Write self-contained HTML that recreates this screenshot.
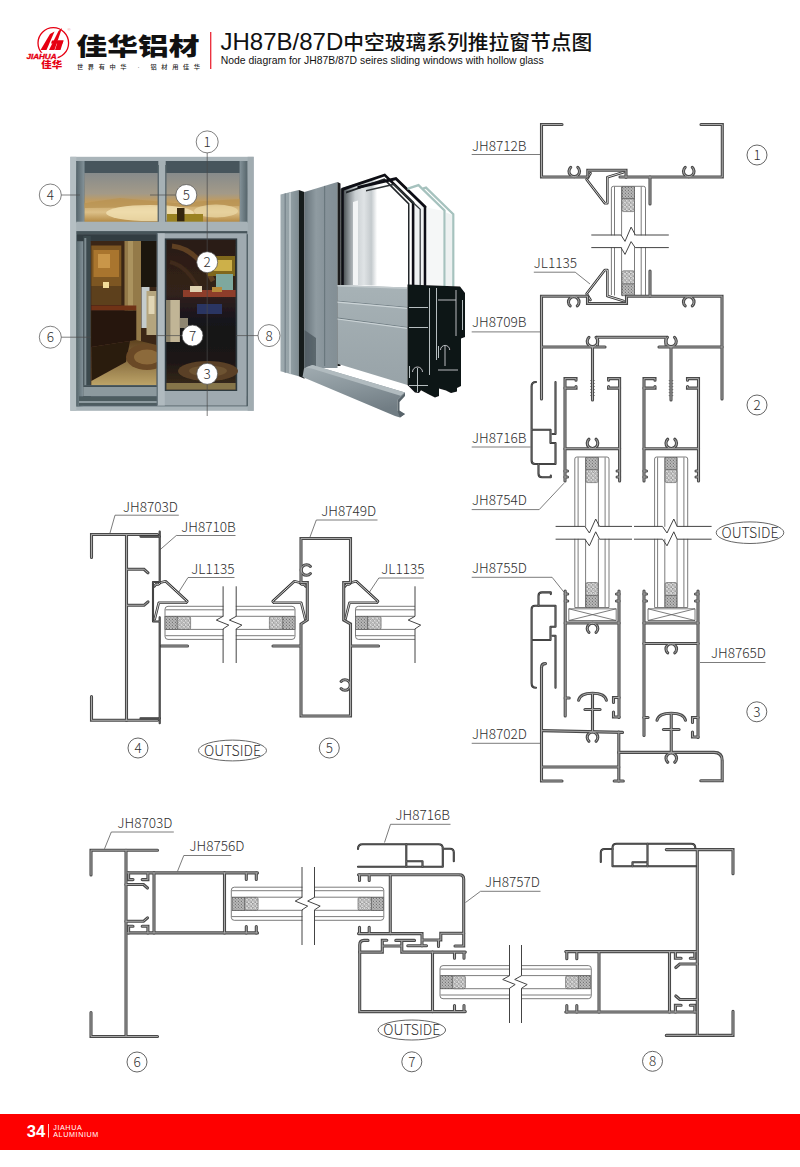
<!DOCTYPE html>
<html lang="zh"><head><meta charset="utf-8"><title>JH87B/87D中空玻璃系列推拉窗节点图</title>
<style>
html,body{margin:0;padding:0;background:#fff}
body{width:800px;height:1167px;overflow:hidden;position:relative;font-family:"Liberation Sans","Noto Sans CJK SC",sans-serif}
svg{position:absolute;left:0;top:0;display:block}
.lbl text{font-family:"Noto Sans CJK SC","Liberation Sans",sans-serif;font-weight:300;font-size:13.6px;fill:#2f2f2f}
.lbl text.num{font-size:13.5px;font-weight:300}
.lbl text.out{font-size:14px;font-weight:300}
.pf{fill:none;stroke:#494949;stroke-width:3.1;stroke-linecap:round;stroke-linejoin:miter}
.pc{fill:none;stroke:#a8a8a8;stroke-width:1.0;stroke-linecap:round;stroke-linejoin:miter}
.dk{fill:none;stroke:#2e2e2e;stroke-width:2.1;stroke-linecap:round;stroke-linejoin:round}
.dc{fill:none;stroke:#8a8a8a;stroke-width:0.5;stroke-linecap:round;stroke-linejoin:round}
.th{fill:none;stroke:#5a5a5a;stroke-width:0.8}
.bk{fill:none;stroke:#444;stroke-width:1;stroke-linejoin:miter}
.gk{fill:none;stroke:#333;stroke-width:2.6;stroke-linecap:round;stroke-linejoin:round}
.gc{fill:none;stroke:#e8e8e8;stroke-width:0.9;stroke-linecap:round;stroke-linejoin:round}
</style></head><body>
<svg width="800" height="1167" viewBox="0 0 800 1167">
<defs>
<pattern id="sp1" width="3" height="3" patternUnits="userSpaceOnUse"><rect width="3" height="3" fill="#c9c9c9"/><path d="M0.3,0.8 l0.9,0.6 M1.8,0.2 l0.5,0.9 M0.6,2.4 l0.9,-0.5 M2.1,2 l0.7,0.7" stroke="#333" stroke-width="0.5" fill="none"/><circle cx="1.6" cy="1.5" r="0.4" fill="#333"/></pattern>
<pattern id="sp2" width="4.2" height="4.2" patternUnits="userSpaceOnUse"><rect width="4.2" height="4.2" fill="#dcdcdc"/><circle cx="1.1" cy="1.1" r="0.9" fill="#fff" stroke="#444" stroke-width="0.5"/><circle cx="3.2" cy="3.2" r="0.9" fill="#fff" stroke="#444" stroke-width="0.5"/></pattern>

<filter id="soft" x="-2%" y="-2%" width="104%" height="104%"><feGaussianBlur stdDeviation="0.55"/></filter>
<filter id="soft2" x="-5%" y="-5%" width="110%" height="110%"><feGaussianBlur stdDeviation="1.6"/></filter>
<linearGradient id="gl1" x1="0" y1="0" x2="0" y2="1"><stop offset="0" stop-color="#878b8b"/><stop offset="0.42" stop-color="#a39a88"/><stop offset="0.58" stop-color="#c29c5e"/><stop offset="0.8" stop-color="#dcc088"/><stop offset="1" stop-color="#b48a44"/></linearGradient>
<linearGradient id="rv" x1="0" y1="0" x2="1" y2="0"><stop offset="0" stop-color="#56656b"/><stop offset="1" stop-color="#84939a"/></linearGradient>
<linearGradient id="rv2" x1="1" y1="0" x2="0" y2="0"><stop offset="0" stop-color="#56656b"/><stop offset="1" stop-color="#84939a"/></linearGradient>
<linearGradient id="rvt" x1="0" y1="0" x2="0" y2="1"><stop offset="0" stop-color="#7f8d92"/><stop offset="0.5" stop-color="#46545a"/><stop offset="1" stop-color="#6f7d82"/></linearGradient>
<linearGradient id="floorL" x1="0" y1="0" x2="0" y2="1"><stop offset="0" stop-color="#5e4220"/><stop offset="1" stop-color="#bda468"/></linearGradient>
<linearGradient id="roomR" x1="0" y1="0" x2="0" y2="1"><stop offset="0" stop-color="#2a1c14"/><stop offset="0.35" stop-color="#33221a"/><stop offset="0.55" stop-color="#15121a"/><stop offset="0.8" stop-color="#1b1513"/><stop offset="1" stop-color="#3b2c1c"/></linearGradient>
<linearGradient id="al1" x1="0" y1="0" x2="1" y2="0"><stop offset="0" stop-color="#9fabb0"/><stop offset="0.45" stop-color="#95a2a7"/><stop offset="1" stop-color="#7f8c92"/></linearGradient>
<linearGradient id="al2" x1="0" y1="0" x2="1" y2="0"><stop offset="0" stop-color="#66737a"/><stop offset="0.35" stop-color="#8f9ba1"/><stop offset="0.62" stop-color="#87939a"/><stop offset="1" stop-color="#838f95"/></linearGradient>
<linearGradient id="al3" x1="0" y1="0" x2="0" y2="1"><stop offset="0" stop-color="#a7b2b6"/><stop offset="1" stop-color="#98a3a8"/></linearGradient>
<linearGradient id="sill" x1="0" y1="0" x2="0.35" y2="1"><stop offset="0" stop-color="#a2adb2"/><stop offset="0.5" stop-color="#8b979d"/><stop offset="1" stop-color="#717d84"/></linearGradient>
<linearGradient id="gls" x1="0" y1="0" x2="1" y2="0"><stop offset="0" stop-color="#2a2f32"/><stop offset="0.12" stop-color="#8d9498"/><stop offset="0.2" stop-color="#c9cfd2"/><stop offset="0.32" stop-color="#dfe3e5"/><stop offset="0.42" stop-color="#c4cacd"/><stop offset="0.5" stop-color="#ffffff"/><stop offset="1" stop-color="#ffffff"/></linearGradient>

</defs>

<!-- header -->
<g id="hdr">
<circle cx="53.3" cy="43" r="15.3" fill="none" stroke="#e60012" stroke-width="1.3"/>
<rect x="25" y="52.8" width="32.6" height="6.6" fill="#fff"/>
<g fill="#e60012">
<polygon points="40.5,50 46.5,50 54.5,31.5 50,34"/>
<polygon points="49,50 54.5,50 62,28 58.5,31"/>
<polygon points="55,50 60.5,50 63.5,40.5 58,40.5"/>
<polygon points="52,40.5 63.5,40.5 62.6,43.5 51,43.5"/>
</g>
<text x="26.4" y="58.6" font-family="'Liberation Sans',sans-serif" font-weight="bold" font-style="italic" font-size="7.4" fill="#e60012" stroke="#e60012" stroke-width="0.35" textLength="30.2" lengthAdjust="spacingAndGlyphs">JIAHUA</text>
<text x="41.2" y="67.6" font-family="'Liberation Sans','Noto Sans CJK SC',sans-serif" font-weight="900" font-size="8.6" fill="#e60012" textLength="21" lengthAdjust="spacingAndGlyphs">佳华</text>
<text x="76.6" y="54.6" font-family="'Liberation Sans','Noto Sans CJK SC',sans-serif" font-weight="900" font-size="24.3" fill="#111" textLength="123" lengthAdjust="spacingAndGlyphs">佳华铝材</text>
<text x="77" y="69.3" font-family="'Liberation Sans','Noto Sans CJK SC',sans-serif" font-weight="500" font-size="6.2" fill="#222" textLength="123" lengthAdjust="spacing">世界有中华 · 铝材用佳华</text>
<rect x="210.2" y="32" width="1.1" height="37" fill="#e60012"/>
<text x="67.6" y="30.8" font-family="'Liberation Sans',sans-serif" font-size="4.2" fill="#f08a8a">®</text>
<text x="220.5" y="50.2" font-family="'Liberation Sans','Noto Sans CJK SC',sans-serif" font-size="24" fill="#111"><tspan>JH87B/87D</tspan><tspan font-size="20.75" font-weight="500" dy="-0.2">中空玻璃系列推拉窗节点图</tspan></text>
<text x="220.8" y="64.2" font-family="'Liberation Sans',sans-serif" font-size="10.4" fill="#111">Node diagram for JH87B/87D seires sliding windows with hollow glass</text>
</g>

<g id="winphoto" filter="url(#soft)">
<!-- outer frame -->
<rect x="70.3" y="156.8" width="183.4" height="254" fill="#a9b4b9"/>
<rect x="70.3" y="156.8" width="6" height="254" fill="#b5bfc3"/>
<rect x="247.6" y="156.8" width="6.1" height="254" fill="#a1acb1"/>
<!-- transom opening -->
<rect x="76.3" y="161" width="171" height="61.5" fill="url(#rvt)"/>
<polygon points="76.3,161 247.3,161 240,173 84.5,173" fill="#46555b"/>
<rect x="76.3" y="161" width="8.2" height="61.5" fill="url(#rv)"/>
<rect x="239.6" y="161" width="7.7" height="61.5" fill="url(#rv2)"/>
<rect x="84.5" y="173" width="155.1" height="49" fill="url(#gl1)"/>
<polygon points="84.5,203 120,198 175,203 239.6,199 239.6,206 84.5,208" fill="#b99354" opacity="0.8"/>
<ellipse cx="150" cy="213" rx="44" ry="8" fill="#f2e2b4" opacity="0.8"/>
<ellipse cx="216" cy="211" rx="22" ry="6.5" fill="#ead7a4" opacity="0.75"/>
<rect x="167" y="214" width="36" height="8" fill="#9a8224"/>
<rect x="177" y="208" width="7.5" height="13.5" fill="#35260f"/>
<rect x="158.3" y="161" width="7.4" height="61.5" fill="#a6b1b5"/><rect x="157.6" y="165" width="1.3" height="57" fill="#556369"/><rect x="165.2" y="165" width="1.3" height="57" fill="#556369"/>
<rect x="76.3" y="221.7" width="171" height="9.4" fill="#a7b2b7"/>
<rect x="76.3" y="231.1" width="171" height="3.2" fill="#46545a"/>
<!-- lower opening -->
<rect x="76.3" y="234.2" width="171" height="172.3" fill="#6c7b81"/>
<rect x="76.3" y="234.2" width="7.2" height="172.3" fill="url(#rv)"/>
<rect x="77" y="234.2" width="80" height="7" fill="#333e43"/>
<rect x="83.3" y="236" width="7.5" height="162" fill="#3b484e"/>
<rect x="84.3" y="238" width="2" height="158" fill="#7e8c91"/>
<!-- left glass scene -->
<rect x="90.6" y="241" width="66" height="144.3" fill="#3a2616"/>
<rect x="91.3" y="245.5" width="30" height="40.5" fill="#7d5622"/>
<rect x="93.5" y="250" width="25.5" height="27" fill="#a9752f"/>
<rect x="98" y="254" width="12" height="14" fill="#c9964a"/>
<rect x="91.3" y="286" width="30" height="19" fill="#5d3f1f"/>
<rect x="103" y="282" width="6" height="6" fill="#f3dc9a"/>
<rect x="124.5" y="241" width="16.5" height="100" fill="#947a49"/>
<rect x="128" y="241" width="5" height="100" fill="#ab935f"/>
<rect x="141" y="241" width="15.6" height="46" fill="#1e140e"/>
<rect x="141.5" y="287" width="8" height="41" fill="#c5cccd"/>
<rect x="146.5" y="291" width="10" height="44" fill="#b5a57e"/>
<rect x="148.5" y="296" width="6" height="18" fill="#e1d6b5"/>
<rect x="91.3" y="305.5" width="45" height="5" fill="#6f3018"/>
<rect x="91.3" y="310.5" width="45" height="37" fill="#27160e"/>
<polygon points="91.3,347 136,340 156.6,345 156.6,385.3 91.3,385.3" fill="url(#floorL)"/>
<polygon points="91.3,347 130,341 126,362 91.3,381" fill="#2b1a10"/>
<ellipse cx="147" cy="357" rx="21" ry="13" fill="#6b4826"/>
<ellipse cx="147" cy="357" rx="13" ry="7.5" fill="#8c6a3a"/>
<rect x="83.3" y="385.3" width="74" height="11" fill="#8c999e"/><rect x="83.3" y="385.3" width="74" height="1.6" fill="#3a474c"/>
<rect x="79" y="396.3" width="168" height="9.5" fill="#4d5b61"/><rect x="79" y="401" width="78" height="2" fill="#8d9a9f"/>
<!-- right sash (front) -->
<rect x="157.2" y="233.3" width="89.5" height="172.2" fill="#9faab0"/>
<rect x="157.2" y="233.3" width="7.6" height="172.2" fill="#b0babf"/>
<rect x="156.6" y="233.3" width="1.2" height="172.2" fill="#5c6a70"/>
<rect x="164.8" y="238.4" width="72.4" height="152.6" fill="#2f3b40"/>
<rect x="166.4" y="239.8" width="69.2" height="149.8" fill="url(#roomR)"/>
<path d="M172,246 Q196,248 213,281" fill="none" stroke="#5e3f24" stroke-width="5"/>
<path d="M170,262 Q188,266 200,292" fill="none" stroke="#3f2a1a" stroke-width="4"/>
<rect x="208" y="256" width="27" height="20" fill="#80681f"/>
<rect x="213" y="260" width="19" height="11" fill="#cdb04a"/>
<rect x="216" y="274" width="17" height="17" fill="#7ea89e"/>
<rect x="183" y="290" width="52.6" height="7" fill="#8d3e2a"/>
<rect x="190" y="286" width="12" height="6" fill="#dfd2b0"/><rect x="212" y="287" width="10" height="5" fill="#b78b3a"/>
<rect x="197" y="304" width="25" height="10" fill="#2a3562"/>
<rect x="166.4" y="300" width="13.5" height="42" fill="#c1b596"/>
<rect x="166.4" y="300" width="4" height="42" fill="#8b826b"/>
<rect x="180" y="318" width="8" height="10" fill="#8e8672"/>
<ellipse cx="208" cy="371" rx="30" ry="10" fill="#5a4026"/>
<ellipse cx="208" cy="371" rx="19" ry="5.5" fill="#6d5230"/>
<rect x="166.4" y="383" width="69.2" height="6.6" fill="#85744a"/>
<rect x="246.7" y="234.2" width="1.2" height="172" fill="#4c5b61"/>
</g>
<g id="prof3d" filter="url(#soft)">
<!-- left outer jamb -->
<polygon points="280.5,194.5 298.8,190 298.8,376.3 280.5,371.3" fill="url(#al1)"/>
<polygon points="284.6,193.5 285.8,193.2 285.8,372.8 284.6,372.5" fill="#75828a"/>
<polygon points="289,192.4 291,191.9 291,374.2 289,373.7" fill="#b5bfc3"/>
<polygon points="298.8,190 304.5,192 304.5,378.8 298.8,376.3" fill="#171a1c"/>
<!-- second jamb -->
<polygon points="304.5,192 337.5,182 337.5,368 304.5,368" fill="url(#al2)"/>
<polygon points="304.5,330 316,338 316,368 304.5,368" fill="#4b575d" opacity="0.75"/>
<polygon points="324,186.1 325.2,185.7 325.2,366 324,366" fill="#6b787e"/>
<polygon points="337.5,182 340.5,183.5 340.5,366 337.5,366" fill="#1a1d1f"/>
<!-- glass -->
<polygon points="340.5,188.8 385,173.8 413.8,202.5 413.8,286 340.5,285" fill="url(#gls)"/>
<polygon points="413.8,203 423.3,206 423.3,286 413.8,286" fill="#eef1f2"/>
<polygon points="353,202 358,200.5 358,285 353,285" fill="#f2f4f5"/>
<polygon points="341.5,188 385,173.4 414.4,202.3 414.4,286 411.8,286 411.8,203.4 384.4,176.6 343.8,190.4 343.8,285 341.5,285" fill="#0f1113"/>
<polygon points="346,191.6 384.5,178.3 409.5,203.5 409.5,286 408,286 408,204.2 384,180.3 346,193.4" fill="#23282b"/>
<polygon points="357.5,186 396.3,177 426.5,206.3 426.5,286 423.7,286 423.7,207.4 395.6,180.2 357.5,189" fill="#0f1113"/>
<polygon points="366,190 394,183.4 420.8,209 420.8,286 419.6,286 419.6,209.6 393.5,185.2 366,191.6" fill="#2d3336"/>
<!-- third & fourth pane (greenish edges) -->
<polygon points="426.5,207.4 444,211 444,287 426.5,286" fill="#f5f7f7"/>
<polygon points="446,212.5 452.5,215 452.5,288 446,287" fill="#edf1f1"/>
<polygon points="407.5,187.5 418.8,183.8 445.6,210 445.6,287 443.4,287 443.4,211 418.2,186.6 407.5,190" fill="#a6c2be"/>
<polygon points="422.5,187.5 426.3,186.3 454.4,213.8 454.4,288 452.2,288 452.2,214.8 425.7,189 422.5,190" fill="#a6c2be"/>
<!-- sash front face -->
<polygon points="337.5,285 407.5,287.5 407.5,385 337.5,363.8" fill="url(#al3)"/>
<polygon points="337.5,300.8 407.5,307 407.5,307.8 337.5,301.6" fill="#6f7c82"/><polygon points="337.5,301.6 407.5,307.8 407.5,308.9 337.5,302.7" fill="#ccd4d7"/>
<polygon points="337.5,317.6 407.5,327 407.5,327.8 337.5,318.4" fill="#6f7c82"/><polygon points="337.5,318.4 407.5,327.8 407.5,328.9 337.5,319.5" fill="#ccd4d7"/>
<polygon points="337.5,285 407.5,287.5 407.5,289 337.5,286.5" fill="#c3cbce"/>
<!-- black cross-section -->
<polygon points="407.5,284.5 460,286.5 465,293 465,337 461,338.5 461,386 457,388 457,391.5 451,393 446,390.5 439,388.5 439,396 435,397.5 428,394 421,390.3 419,393 415,392.5 407.5,385" fill="#111315"/>
<g stroke="#c9d1d4" stroke-width="0.9" fill="none">
<path d="M409,307.5 H428 M409,327.5 H428 M429.5,288 V375 M436.5,288 V360 M438,300 H456 M456,290 V336 M462.5,300 V330 M440.5,350 a4.6,4.6 0 0 1 9.2,0 M445,346 V366 M438,370 H458 M412.5,372 a5,5 0 0 1 10,0 M417.5,368 V392 M409,385.5 H428 M409.5,366 V378 M438.5,346 V358"/>
</g>
<!-- sill -->
<polygon points="304,368.5 312.5,365 405,392.5 397.5,400 397.5,411 405,414 400,417.5 395,416 302.5,377" fill="url(#sill)"/>
<polygon points="305,367.5 312.5,365 405,392.5 400.5,395.8 311.5,368.5" fill="#b1bbbf"/>
<polygon points="397.5,400 405,392.5 405,396 399.5,402 399.5,410.5 405,414 400,417.5 397.5,411" fill="#58646a"/>
</g>

<g id="calls" class="lbl">
<g fill="none" stroke="#4a4a4a" stroke-width="0.7">
<path d="M207.2,152.9 V416 M61.3,195 H80 M150,195 H176 M61.3,337.2 H91 M156.5,335.6 H182 M236,335.6 H258"/>
<circle cx="207.2" cy="141.9" r="11"/><circle cx="50.3" cy="195" r="11"/><circle cx="50.3" cy="337.2" r="11"/><circle cx="269" cy="335.6" r="11"/>
<circle cx="186.3" cy="195" r="10.5" fill="#fff"/><circle cx="207.2" cy="262.2" r="10.5" fill="#fff"/><circle cx="192.5" cy="335.6" r="10.5" fill="#fff"/><circle cx="207.2" cy="373.8" r="10.5" fill="#fff"/>
</g>
<g text-anchor="middle" style="font-size:14px">
<text class="num" x="207.2" y="146.8">1</text><text class="num" x="50.3" y="199.9">4</text><text class="num" x="50.3" y="342.1">6</text><text class="num" x="269" y="340.5">8</text>
<text class="num" x="186.3" y="199.9">5</text><text class="num" x="207.2" y="267.1">2</text><text class="num" x="192.5" y="340.5">7</text><text class="num" x="207.2" y="378.7">3</text>
</g>
</g>
<g class="th">
<path d="M590.3,380 l1.4,1.5 M594.7,380 l-1.4,1.5"/>
<path d="M590.3,383 l1.4,1.5 M594.7,383 l-1.4,1.5"/>
<path d="M590.3,386 l1.4,1.5 M594.7,386 l-1.4,1.5"/>
<path d="M590.3,389 l1.4,1.5 M594.7,389 l-1.4,1.5"/>
<path d="M590.3,392 l1.4,1.5 M594.7,392 l-1.4,1.5"/>
<path d="M590.3,395 l1.4,1.5 M594.7,395 l-1.4,1.5"/>
<path d="M668.8,380 l1.4,1.5 M673.2,380 l-1.4,1.5"/>
<path d="M668.8,383 l1.4,1.5 M673.2,383 l-1.4,1.5"/>
<path d="M668.8,386 l1.4,1.5 M673.2,386 l-1.4,1.5"/>
<path d="M668.8,389 l1.4,1.5 M673.2,389 l-1.4,1.5"/>
<path d="M668.8,392 l1.4,1.5 M673.2,392 l-1.4,1.5"/>
<path d="M668.8,395 l1.4,1.5 M673.2,395 l-1.4,1.5"/>
<path d="M611.4,295 V188.3 Q611.4,186.3 613.4,186.3 H643.5 Q645.5,186.3 645.5,188.3 V295"/>
<path d="M614.5,186.8 V295.5"/>
<path d="M621.6,186.8 V295.5"/>
<path d="M634.5,186.8 V295.5"/>
<path d="M641.2,186.8 V295.5"/>
<path d="M574.8,607.5 V459 Q574.8,457 576.8,457 H607 Q609,457 609,459 V607.5 H574.8"/>
<path d="M578.1,457.5 V607"/>
<path d="M585.6,457.5 V607"/>
<path d="M598.4,457.5 V607"/>
<path d="M605.1,457.5 V607"/>
<path d="M654.6,607.5 V459 Q654.6,457 656.6,457 H685.7 Q687.7,457 687.7,459 V607.5 H654.6"/>
<path d="M657.6,457.5 V607"/>
<path d="M664.8,457.5 V607"/>
<path d="M677.1,457.5 V607"/>
<path d="M683.9,457.5 V607"/>
<path d="M568.8,608.8 H616.2 V620.5 H568.8 Z M568.8,608.8 L616.2,620.5 M568.8,620.5 L616.2,608.8"/>
<path d="M648,608.8 H695 V620.5 H648 Z M648,608.8 L695,620.5 M648,620.5 L695,608.8"/>
<path d="M471.7,154.5 H540"/>
<path d="M533.8,272.2 H575.2 M575.2,272.2 L590,284"/>
<path d="M471.7,331.9 H540"/>
<path d="M471.7,447 H530.5"/>
<path d="M471.7,509.6 H539.2 M539.2,509.6 L564,483.2"/>
<path d="M471.7,577.3 H552.1 M552.1,577.3 L564,592.2"/>
<path d="M700,662.5 H765.5"/>
<path d="M471.7,743.3 H540"/>
<path d="M168,606.3 H292 Q295,606.3 295,609.3 V636.4 Q295,639.4 292,639.4 H168 Q165,639.4 165,636.4 V609.3 Q165,606.3 168,606.3"/>
<path d="M165.5,609.8 H294.5"/>
<path d="M165.5,616.3 H294.5"/>
<path d="M165.5,629.4 H294.5"/>
<path d="M165.5,635.6999999999999 H294.5"/>
<path d="M415,606.3 H358.5 Q355.5,606.3 355.5,609.3 V636.4 Q355.5,639.4 358.5,639.4 H415"/>
<path d="M356.0,609.8 H415"/>
<path d="M356.0,616.3 H415"/>
<path d="M356.0,629.4 H415"/>
<path d="M356.0,635.6999999999999 H415"/>
<path d="M115,515.2 H178.8 M115,515.2 L110,533"/>
<path d="M176.3,535.5 H235.5 M176.3,535.5 L160.3,549.5"/>
<path d="M188,577.5 H234.5 M188,577.5 L178.8,592"/>
<path d="M316.3,520 H377.5 M316.3,520 L310,537"/>
<path d="M378.8,578 H423.8 M378.8,578 L369.5,592"/>
<path d="M302,887.2 H234.3 Q231.3,887.2 231.3,890.2 V917.3000000000001 Q231.3,920.3000000000001 234.3,920.3000000000001 H302"/>
<path d="M231.8,890.7 H302"/>
<path d="M231.8,897.2 H302"/>
<path d="M231.8,910.3000000000001 H302"/>
<path d="M231.8,916.6 H302"/>
<path d="M302,887.2 H380.8 Q383.8,887.2 383.8,890.2 V917.3000000000001 Q383.8,920.3000000000001 380.8,920.3000000000001 H302"/>
<path d="M302,890.7 H383.3"/>
<path d="M302,897.2 H383.3"/>
<path d="M302,910.3000000000001 H383.3"/>
<path d="M302,916.6 H383.3"/>
<path d="M443,965.6 H588.3 Q591.3,965.6 591.3,968.6 V995.7 Q591.3,998.7 588.3,998.7 H443 Q440,998.7 440,995.7 V968.6 Q440,965.6 443,965.6"/>
<path d="M440.5,969.1 H590.8"/>
<path d="M440.5,975.6 H590.8"/>
<path d="M440.5,988.7 H590.8"/>
<path d="M440.5,995.0 H590.8"/>
<path d="M111.3,832 H173.8 M111.3,832 L104.5,848.8"/>
<path d="M183.8,855.5 H231.3 M183.8,855.5 L177.5,871.3"/>
<path d="M390.5,824.3 H450.5 M390.5,824.3 L384.5,842.5"/>
<path d="M480.5,891.3 H540.5 M480.5,891.3 L465.5,902.5"/>
</g>
<rect x="622.00" y="186.80" width="12.50" height="11.90" fill="url(#sp1)" stroke="#555" stroke-width="0.6"/>
<rect x="622.00" y="198.70" width="12.50" height="12.90" rx="1.6" fill="url(#sp2)" stroke="#555" stroke-width="0.6"/>
<rect x="622.00" y="283.80" width="12.50" height="12.00" fill="url(#sp1)" stroke="#555" stroke-width="0.6"/>
<rect x="622.00" y="270.80" width="12.50" height="13.00" rx="1.6" fill="url(#sp2)" stroke="#555" stroke-width="0.6"/>
<rect x="590" y="235.4" width="80" height="11.7" fill="#fff"/>
<rect x="585.90" y="457.60" width="12.20" height="12.00" fill="url(#sp1)" stroke="#555" stroke-width="0.6"/>
<rect x="585.90" y="469.60" width="12.20" height="13.00" rx="1.6" fill="url(#sp2)" stroke="#555" stroke-width="0.6"/>
<rect x="585.90" y="595.50" width="12.20" height="12.00" fill="url(#sp1)" stroke="#555" stroke-width="0.6"/>
<rect x="585.90" y="582.50" width="12.20" height="13.00" rx="1.6" fill="url(#sp2)" stroke="#555" stroke-width="0.6"/>
<rect x="665.10" y="457.60" width="11.70" height="12.00" fill="url(#sp1)" stroke="#555" stroke-width="0.6"/>
<rect x="665.10" y="469.60" width="11.70" height="13.00" rx="1.6" fill="url(#sp2)" stroke="#555" stroke-width="0.6"/>
<rect x="665.10" y="595.50" width="11.70" height="12.00" fill="url(#sp1)" stroke="#555" stroke-width="0.6"/>
<rect x="665.10" y="582.50" width="11.70" height="13.00" rx="1.6" fill="url(#sp2)" stroke="#555" stroke-width="0.6"/>
<rect x="555" y="526.8" width="163" height="12" fill="#fff"/>
<circle cx="757" cy="155" r="10" fill="none" stroke="#555" stroke-width="0.9"/>
<circle cx="757" cy="405" r="10" fill="none" stroke="#555" stroke-width="0.9"/>
<circle cx="756.8" cy="711.8" r="10" fill="none" stroke="#555" stroke-width="0.9"/>
<ellipse cx="750" cy="532.7" rx="33.8" ry="10.8" fill="none" stroke="#555" stroke-width="0.9"/>
<rect x="165.00" y="616.50" width="12.29" height="12.90" fill="url(#sp1)" stroke="#555" stroke-width="0.6"/>
<rect x="177.29" y="616.50" width="13.31" height="12.90" rx="1.6" fill="url(#sp2)" stroke="#555" stroke-width="0.6"/>
<rect x="282.71" y="616.50" width="12.29" height="12.90" fill="url(#sp1)" stroke="#555" stroke-width="0.6"/>
<rect x="269.40" y="616.50" width="13.31" height="12.90" rx="1.6" fill="url(#sp2)" stroke="#555" stroke-width="0.6"/>
<rect x="355.50" y="616.50" width="12.29" height="12.90" fill="url(#sp1)" stroke="#555" stroke-width="0.6"/>
<rect x="367.79" y="616.50" width="13.31" height="12.90" rx="1.6" fill="url(#sp2)" stroke="#555" stroke-width="0.6"/>
<rect x="223.5" y="604" width="12.3" height="38" fill="#fff"/>
<rect x="415.5" y="604" width="8" height="38" fill="#fff"/>
<circle cx="138" cy="748" r="10" fill="none" stroke="#555" stroke-width="0.9"/>
<circle cx="329.3" cy="748" r="10" fill="none" stroke="#555" stroke-width="0.9"/>
<ellipse cx="232.5" cy="750.5" rx="34" ry="10.4" fill="none" stroke="#555" stroke-width="0.9"/>
<rect x="232.50" y="897.40" width="12.29" height="12.90" fill="url(#sp1)" stroke="#555" stroke-width="0.6"/>
<rect x="244.79" y="897.40" width="13.31" height="12.90" rx="1.6" fill="url(#sp2)" stroke="#555" stroke-width="0.6"/>
<rect x="371.31" y="897.40" width="12.29" height="12.90" fill="url(#sp1)" stroke="#555" stroke-width="0.6"/>
<rect x="358.00" y="897.40" width="13.31" height="12.90" rx="1.6" fill="url(#sp2)" stroke="#555" stroke-width="0.6"/>
<rect x="302.5" y="885" width="11.5" height="38" fill="#fff"/>
<rect x="440.40" y="975.80" width="12.00" height="12.90" fill="url(#sp1)" stroke="#555" stroke-width="0.6"/>
<rect x="452.40" y="975.80" width="13.00" height="12.90" rx="1.6" fill="url(#sp2)" stroke="#555" stroke-width="0.6"/>
<rect x="578.60" y="975.80" width="12.00" height="12.90" fill="url(#sp1)" stroke="#555" stroke-width="0.6"/>
<rect x="565.60" y="975.80" width="13.00" height="12.90" rx="1.6" fill="url(#sp2)" stroke="#555" stroke-width="0.6"/>
<rect x="510" y="963" width="11.3" height="38" fill="#fff"/>
<circle cx="137" cy="1062" r="10" fill="none" stroke="#555" stroke-width="0.9"/>
<circle cx="411.8" cy="1061.8" r="10" fill="none" stroke="#555" stroke-width="0.9"/>
<circle cx="652.5" cy="1061.3" r="10" fill="none" stroke="#555" stroke-width="0.9"/>
<ellipse cx="411.8" cy="1030" rx="33.8" ry="10" fill="none" stroke="#555" stroke-width="0.9"/>
<g class="bk">
<path d="M591.3,235 H621 L625,241.4 L631.1,227.1 L635.4,235 H668.8"/>
<path d="M591.3,247.6 H621 L625,254.4 L631.1,241.6 L635.2,247.6 H668.8"/>
<path d="M555.6,526.4 H584.9 l4.5,6.6 l6.3,-14 l3.8,7.4 H632 M634,526.4 H662.5 l4.5,6.6 l6.8,-14 l3.3,7.4 H711.6"/>
<path d="M555.6,539.2 H584.9 l4.5,6.6 l6.3,-14 l3.8,7.4 H632 M634,539.2 H662.5 l4.5,6.6 l6.8,-14 l3.3,7.4 H711.6"/>
<path d="M223.1,586.3 V616.3 l-6.8,3.8 l12.5,5 l-5.7,3.8 V663"/>
<path d="M236.2,586.3 V616.3 l-6.8,3.8 l12.5,5 l-5.7,3.8 V663"/>
<path d="M415,586.3 V616.3 l-6.8,3.8 l12.5,5 l-5.7,3.8 V663"/>
<path d="M302,867 V897.3 l-6.8,3.8 l12.5,5 l-5.7,3.8 V945"/>
<path d="M314.5,867 V897.3 l-6.8,3.8 l12.5,5 l-5.7,3.8 V945"/>
<path d="M509.5,945 V975.7 l-6.8,3.8 l12.5,5 l-5.7,3.8 V1023"/>
<path d="M521.5,945 V975.7 l-6.8,3.8 l12.5,5 l-5.7,3.8 V1023"/>
</g>
<g class="gk">
<path d="M590.5,173.2 L586.6,179.5 L604.8,203.2 L607.3,203.2 L607.3,177.2 L623.5,172.2"/>
<path d="M590.5,300.0 L586.6,293.7 L604.8,270.0 L607.3,270.0 L607.3,296.0 L623.5,301.0"/>
<path d="M154.3,586.3 L156.3,584 Q158.5,585.6 160.6,582.4 L165.6,581.3 L187.3,601.3 L186,602.8 H158.8 L154.7,619.2"/>
<path d="M345.0,586.3 L347.0,584 Q349.2,585.6 351.3,582.4 L356.3,581.3 L378.0,601.3 L376.7,602.8 H349.5 L345.4,619.2"/>
<path d="M305.7,586.3 L303.7,584 Q301.5,585.6 299.4,582.4 L294.4,581.3 L272.7,601.3 L274.0,602.8 H301.2 L305.3,619.2"/>
</g>
<g class="gc">
<path d="M590.5,173.2 L586.6,179.5 L604.8,203.2 L607.3,203.2 L607.3,177.2 L623.5,172.2"/>
<path d="M590.5,300.0 L586.6,293.7 L604.8,270.0 L607.3,270.0 L607.3,296.0 L623.5,301.0"/>
<path d="M154.3,586.3 L156.3,584 Q158.5,585.6 160.6,582.4 L165.6,581.3 L187.3,601.3 L186,602.8 H158.8 L154.7,619.2"/>
<path d="M345.0,586.3 L347.0,584 Q349.2,585.6 351.3,582.4 L356.3,581.3 L378.0,601.3 L376.7,602.8 H349.5 L345.4,619.2"/>
<path d="M305.7,586.3 L303.7,584 Q301.5,585.6 299.4,582.4 L294.4,581.3 L272.7,601.3 L274.0,602.8 H301.2 L305.3,619.2"/>
</g>
<g class="pf">
<path d="M562,124.5 H541.5 V177 H587.8 V170.2 H626 V177.3"/>
<path d="M620,177 H722.3 V124.5 H701"/>
<path d="M650,177 V204"/>
<path d="M577.80,167.36 A5.3,5.3 0 1 1 570.70,167.36"/>
<path d="M692.30,167.36 A5.3,5.3 0 1 1 685.20,167.36"/>
<path d="M541.5,399 V296.2 H587.5 V303.5 H626.5 V296.2 H722 V399"/>
<path d="M650,296 V271"/>
<path d="M570.20,305.94 A5.3,5.3 0 1 1 577.30,305.94"/>
<path d="M685.20,305.94 A5.3,5.3 0 1 1 692.30,305.94"/>
<path d="M541.5,347 H605"/>
<path d="M659,347 H722"/>
<path d="M597.5,345 V337.3 H666 V345"/>
<path d="M596.05,337.36 A5.3,5.3 0 1 1 588.95,337.36"/>
<path d="M674.55,337.36 A5.3,5.3 0 1 1 667.45,337.36"/>
<path d="M592.5,347 V400"/>
<path d="M671,347 V400"/>
<path d="M576,380.2 V378.6 H565 V481"/>
<path d="M565,388.1 H576 V386.5"/>
<path d="M608.6,380.2 V378.6 H619.6 V481"/>
<path d="M619.6,388.1 H608.6 V386.5"/>
<path d="M565,448.7 H619.6"/>
<path d="M596.05,439.26 A5.3,5.3 0 1 1 588.95,439.26"/>
<path d="M565,471 h2.5 M565,477 h2.5"/>
<path d="M619.6,471 h-2.5 M619.6,477 h-2.5"/>
<path d="M655,380.2 V378.6 H644 V481"/>
<path d="M644,388.1 H655 V386.5"/>
<path d="M687.5,380.2 V378.6 H698.5 V481"/>
<path d="M698.5,388.1 H687.5 V386.5"/>
<path d="M644,448.7 H698.5"/>
<path d="M674.80,439.26 A5.3,5.3 0 1 1 667.70,439.26"/>
<path d="M644,471 h2.5 M644,477 h2.5"/>
<path d="M698.5,471 h-2.5 M698.5,477 h-2.5"/>
<path d="M565.2,591 V716"/>
<path d="M619,591 V717.5"/>
<path d="M565.2,623 H619"/>
<path d="M588.95,632.44 A5.3,5.3 0 1 1 596.05,632.44"/>
<path d="M565.2,594 h2.5 M565.2,601 h2.5"/>
<path d="M619,594 h-2.5 M619,601 h-2.5"/>
<path d="M565.2,698 h4"/>
<path d="M619,697.5 h-5.5 v5 M619,717 h-5.5 v-5"/>
<path d="M644,591 V735.5"/>
<path d="M698,591 V737.5"/>
<path d="M644,623 H698"/>
<path d="M644,643.5 H698"/>
<path d="M667.70,652.94 A5.3,5.3 0 1 1 674.80,652.94"/>
<path d="M644,594 h2.5 M644,601 h2.5"/>
<path d="M698,594 h-2.5 M698,601 h-2.5"/>
<path d="M644,717.5 h4"/>
<path d="M698,717.5 h-5.5 v5 M698,737 h-5.5 v-5"/>
<path d="M545.5,663.6 Q541.5,663.6 541.5,667.5 V781 H562"/>
<path d="M541.5,730.6 L622.5,732.4"/>
<path d="M588.95,741.24 A5.3,5.3 0 1 1 596.05,741.24"/>
<path d="M592.5,731 V694"/>
<path d="M578.6,700.3 Q580,693.2 592.5,693.2 Q605,693.2 606.4,700.3"/>
<path d="M585,709.5 H600"/>
<path d="M618.8,732 V781"/>
<path d="M614.2,781 H623.3"/>
<path d="M541.5,767 H618.8"/>
<path d="M618.8,752.4 H714 Q722.2,752.4 722.2,760.5 V780.8 H700.8"/>
<path d="M667.70,762.24 A5.3,5.3 0 1 1 674.80,762.24"/>
<path d="M671.25,752 V714"/>
<path d="M657,720.3 Q658.5,713.2 671.25,713.2 Q684,713.2 685.5,720.3"/>
<path d="M663.5,729.5 H679"/>
<path d="M91.5,557.5 V534.5 H157.5"/>
<path d="M126.5,534.5 V720.3"/>
<path d="M91.5,696.5 V720.3 H157.5"/>
<path d="M126.5,569.3 H144 L148,572.8"/>
<path d="M126.5,605.3 H144 L148,601.8"/>
<path d="M161,646 H187.5"/>
<path d="M301,582.5 V538.5 H350.5 V582.5 H343.7 V620 L350.5,624 V716 H301 V624 L307.3,620 V582.5 H301"/>
<path d="M273,646 H300"/>
<path d="M351.5,646 H378.5"/>
<path d="M310.44,573.55 A5.3,5.3 0 1 1 310.44,566.45"/>
<path d="M341.06,681.45 A5.3,5.3 0 1 1 341.06,688.55"/>
<path d="M91,875 V850.2 H157.5"/>
<path d="M126,850.2 V1036.5"/>
<path d="M91,1012.5 V1036.5 H157.5"/>
<path d="M126,884.5 H143.5 L147.5,888"/>
<path d="M126,921.3 H143.5 L147.5,917.8"/>
<path d="M127.5,872.9 H257.5"/>
<path d="M127.5,932.9 H257.5"/>
<path d="M154,872.9 V932.9"/>
<path d="M224.5,872.9 V932.9"/>
<path d="M246.3,873 V879.5 M256.3,873 V879.5 M246.3,933 V926.5 M256.3,933 V926.5"/>
<path d="M128.6,873 V879.6 H133 M147.9,873 V879.6 H142.2"/>
<path d="M128.6,932.9 V926.2 H133 M147.9,932.9 V926.2 H142.2"/>
<path d="M358.5,874.8 H459.3 Q463.7,874.8 463.7,879.2 V946 H455"/>
<path d="M390.3,874.8 V933.6"/>
<path d="M358.5,933.6 H422 V946 M407.8,945.7 H426.5 M422,940 H440.8 V933.3 H463.7 M438.5,940 V946.5"/>
<path d="M359.5,875 V880.5 M369.2,875 V880.5 M359.5,933.5 V927.3 M369.2,933.5 V927.3"/>
<path d="M368,940.4 H364 Q359.7,940.4 359.7,945 V1011.6 H465.3"/>
<path d="M359.7,952.1 H382.3 V940.3 H386.8 M382.3,946 H401.8 M395.8,940.4 H414.5 M401.8,940.4 V952.1 H465.3"/>
<path d="M432.5,952.1 V1011.6"/>
<path d="M454.5,952.5 V958.3 M464,952.5 V958.3 M454.5,1011.3 V1005.5 M464,1011.3 V1005.5"/>
<path d="M666.3,849.6 H733 V873.8"/>
<path d="M697.3,849.6 V1035.4"/>
<path d="M666.3,1035.4 H733 V1011.3"/>
<path d="M697.3,964 H679.8 L675.8,967.5"/>
<path d="M697.3,999.5 H679.8 L675.8,996"/>
<path d="M565.8,951.6 H696"/>
<path d="M565.8,1012 H696"/>
<path d="M599,951.6 V1012"/>
<path d="M669.5,951.6 V1012"/>
<path d="M566.8,952 V958.8 M576.8,952 V958.8 M566.8,1012 V1005.5 M576.8,1012 V1005.5"/>
<path d="M694.8,951.6 V958.3 H690.3 M675.4,951.6 V958.3 H681.1"/>
<path d="M694.8,1012 V1005.3 H690.3 M675.4,1012 V1005.3 H681.1"/>
</g>
<g class="pc">
<path d="M562,124.5 H541.5 V177 H587.8 V170.2 H626 V177.3"/>
<path d="M620,177 H722.3 V124.5 H701"/>
<path d="M650,177 V204"/>
<path d="M577.80,167.36 A5.3,5.3 0 1 1 570.70,167.36"/>
<path d="M692.30,167.36 A5.3,5.3 0 1 1 685.20,167.36"/>
<path d="M541.5,399 V296.2 H587.5 V303.5 H626.5 V296.2 H722 V399"/>
<path d="M650,296 V271"/>
<path d="M570.20,305.94 A5.3,5.3 0 1 1 577.30,305.94"/>
<path d="M685.20,305.94 A5.3,5.3 0 1 1 692.30,305.94"/>
<path d="M541.5,347 H605"/>
<path d="M659,347 H722"/>
<path d="M597.5,345 V337.3 H666 V345"/>
<path d="M596.05,337.36 A5.3,5.3 0 1 1 588.95,337.36"/>
<path d="M674.55,337.36 A5.3,5.3 0 1 1 667.45,337.36"/>
<path d="M592.5,347 V400"/>
<path d="M671,347 V400"/>
<path d="M576,380.2 V378.6 H565 V481"/>
<path d="M565,388.1 H576 V386.5"/>
<path d="M608.6,380.2 V378.6 H619.6 V481"/>
<path d="M619.6,388.1 H608.6 V386.5"/>
<path d="M565,448.7 H619.6"/>
<path d="M596.05,439.26 A5.3,5.3 0 1 1 588.95,439.26"/>
<path d="M565,471 h2.5 M565,477 h2.5"/>
<path d="M619.6,471 h-2.5 M619.6,477 h-2.5"/>
<path d="M655,380.2 V378.6 H644 V481"/>
<path d="M644,388.1 H655 V386.5"/>
<path d="M687.5,380.2 V378.6 H698.5 V481"/>
<path d="M698.5,388.1 H687.5 V386.5"/>
<path d="M644,448.7 H698.5"/>
<path d="M674.80,439.26 A5.3,5.3 0 1 1 667.70,439.26"/>
<path d="M644,471 h2.5 M644,477 h2.5"/>
<path d="M698.5,471 h-2.5 M698.5,477 h-2.5"/>
<path d="M565.2,591 V716"/>
<path d="M619,591 V717.5"/>
<path d="M565.2,623 H619"/>
<path d="M588.95,632.44 A5.3,5.3 0 1 1 596.05,632.44"/>
<path d="M565.2,594 h2.5 M565.2,601 h2.5"/>
<path d="M619,594 h-2.5 M619,601 h-2.5"/>
<path d="M565.2,698 h4"/>
<path d="M619,697.5 h-5.5 v5 M619,717 h-5.5 v-5"/>
<path d="M644,591 V735.5"/>
<path d="M698,591 V737.5"/>
<path d="M644,623 H698"/>
<path d="M644,643.5 H698"/>
<path d="M667.70,652.94 A5.3,5.3 0 1 1 674.80,652.94"/>
<path d="M644,594 h2.5 M644,601 h2.5"/>
<path d="M698,594 h-2.5 M698,601 h-2.5"/>
<path d="M644,717.5 h4"/>
<path d="M698,717.5 h-5.5 v5 M698,737 h-5.5 v-5"/>
<path d="M545.5,663.6 Q541.5,663.6 541.5,667.5 V781 H562"/>
<path d="M541.5,730.6 L622.5,732.4"/>
<path d="M588.95,741.24 A5.3,5.3 0 1 1 596.05,741.24"/>
<path d="M592.5,731 V694"/>
<path d="M578.6,700.3 Q580,693.2 592.5,693.2 Q605,693.2 606.4,700.3"/>
<path d="M585,709.5 H600"/>
<path d="M618.8,732 V781"/>
<path d="M614.2,781 H623.3"/>
<path d="M541.5,767 H618.8"/>
<path d="M618.8,752.4 H714 Q722.2,752.4 722.2,760.5 V780.8 H700.8"/>
<path d="M667.70,762.24 A5.3,5.3 0 1 1 674.80,762.24"/>
<path d="M671.25,752 V714"/>
<path d="M657,720.3 Q658.5,713.2 671.25,713.2 Q684,713.2 685.5,720.3"/>
<path d="M663.5,729.5 H679"/>
<path d="M91.5,557.5 V534.5 H157.5"/>
<path d="M126.5,534.5 V720.3"/>
<path d="M91.5,696.5 V720.3 H157.5"/>
<path d="M126.5,569.3 H144 L148,572.8"/>
<path d="M126.5,605.3 H144 L148,601.8"/>
<path d="M161,646 H187.5"/>
<path d="M301,582.5 V538.5 H350.5 V582.5 H343.7 V620 L350.5,624 V716 H301 V624 L307.3,620 V582.5 H301"/>
<path d="M273,646 H300"/>
<path d="M351.5,646 H378.5"/>
<path d="M310.44,573.55 A5.3,5.3 0 1 1 310.44,566.45"/>
<path d="M341.06,681.45 A5.3,5.3 0 1 1 341.06,688.55"/>
<path d="M91,875 V850.2 H157.5"/>
<path d="M126,850.2 V1036.5"/>
<path d="M91,1012.5 V1036.5 H157.5"/>
<path d="M126,884.5 H143.5 L147.5,888"/>
<path d="M126,921.3 H143.5 L147.5,917.8"/>
<path d="M127.5,872.9 H257.5"/>
<path d="M127.5,932.9 H257.5"/>
<path d="M154,872.9 V932.9"/>
<path d="M224.5,872.9 V932.9"/>
<path d="M246.3,873 V879.5 M256.3,873 V879.5 M246.3,933 V926.5 M256.3,933 V926.5"/>
<path d="M128.6,873 V879.6 H133 M147.9,873 V879.6 H142.2"/>
<path d="M128.6,932.9 V926.2 H133 M147.9,932.9 V926.2 H142.2"/>
<path d="M358.5,874.8 H459.3 Q463.7,874.8 463.7,879.2 V946 H455"/>
<path d="M390.3,874.8 V933.6"/>
<path d="M358.5,933.6 H422 V946 M407.8,945.7 H426.5 M422,940 H440.8 V933.3 H463.7 M438.5,940 V946.5"/>
<path d="M359.5,875 V880.5 M369.2,875 V880.5 M359.5,933.5 V927.3 M369.2,933.5 V927.3"/>
<path d="M368,940.4 H364 Q359.7,940.4 359.7,945 V1011.6 H465.3"/>
<path d="M359.7,952.1 H382.3 V940.3 H386.8 M382.3,946 H401.8 M395.8,940.4 H414.5 M401.8,940.4 V952.1 H465.3"/>
<path d="M432.5,952.1 V1011.6"/>
<path d="M454.5,952.5 V958.3 M464,952.5 V958.3 M454.5,1011.3 V1005.5 M464,1011.3 V1005.5"/>
<path d="M666.3,849.6 H733 V873.8"/>
<path d="M697.3,849.6 V1035.4"/>
<path d="M666.3,1035.4 H733 V1011.3"/>
<path d="M697.3,964 H679.8 L675.8,967.5"/>
<path d="M697.3,999.5 H679.8 L675.8,996"/>
<path d="M565.8,951.6 H696"/>
<path d="M565.8,1012 H696"/>
<path d="M599,951.6 V1012"/>
<path d="M669.5,951.6 V1012"/>
<path d="M566.8,952 V958.8 M576.8,952 V958.8 M566.8,1012 V1005.5 M576.8,1012 V1005.5"/>
<path d="M694.8,951.6 V958.3 H690.3 M675.4,951.6 V958.3 H681.1"/>
<path d="M694.8,1012 V1005.3 H690.3 M675.4,1012 V1005.3 H681.1"/>
</g>
<g class="dk">
<path d="M536,382 Q531.6,382 531.6,386.5 V460.5 Q531.6,464 535,464 H555.5 V443 H550.5 V429.7 H531.6"/>
<path d="M555.5,382 V434 H552.5"/>
<path d="M538.5,464 V473.8 Q538.5,477.3 542,477.3 H550.8 V475.6"/>
<path d="M536,687.7 Q531.6,687.7 531.6,683.2 V609.2 Q531.6,605.7 535,605.7 H555.5 V626.7 H550.5 V640.0 H531.6"/>
<path d="M555.5,687.7 V635.7 H552.5"/>
<path d="M538.5,605.7 V595.9 Q538.5,592.4 542,592.4 H550.8 V594.1"/>
<path d="M159.7,531.5 V582 H153 V621.5 H159.7 V617.3 M159.7,621.5 V723.3"/>
<path d="M140.5,536.6 H159.7"/>
<path d="M140.5,718.2 H159.7"/>
<path d="M358,849 Q358,844.2 362.5,844.2 H438.5 Q442.8,844.2 442.8,848.5 V866.8 H358"/>
<path d="M406.3,844.2 V866.8 M406.3,861.3 H422.5 V866.8"/>
<path d="M442.8,848.8 H450 Q453.8,848.8 453.8,852.5 V861.3"/>
<path d="M695.3,848 Q695.3,843.8 691,843.8 H616.5 Q612.5,843.8 612.5,848 V866.3 H696"/>
<path d="M612.5,849 H604.5 Q600.8,849 600.8,852.8 V862"/>
<path d="M647.5,843.8 V866.3 M647.5,862.3 H632.5 V866.3"/>
</g>
<g class="dc">
<path d="M536,382 Q531.6,382 531.6,386.5 V460.5 Q531.6,464 535,464 H555.5 V443 H550.5 V429.7 H531.6"/>
<path d="M555.5,382 V434 H552.5"/>
<path d="M538.5,464 V473.8 Q538.5,477.3 542,477.3 H550.8 V475.6"/>
<path d="M536,687.7 Q531.6,687.7 531.6,683.2 V609.2 Q531.6,605.7 535,605.7 H555.5 V626.7 H550.5 V640.0 H531.6"/>
<path d="M555.5,687.7 V635.7 H552.5"/>
<path d="M538.5,605.7 V595.9 Q538.5,592.4 542,592.4 H550.8 V594.1"/>
<path d="M159.7,531.5 V582 H153 V621.5 H159.7 V617.3 M159.7,621.5 V723.3"/>
<path d="M140.5,536.6 H159.7"/>
<path d="M140.5,718.2 H159.7"/>
<path d="M358,849 Q358,844.2 362.5,844.2 H438.5 Q442.8,844.2 442.8,848.5 V866.8 H358"/>
<path d="M406.3,844.2 V866.8 M406.3,861.3 H422.5 V866.8"/>
<path d="M442.8,848.8 H450 Q453.8,848.8 453.8,852.5 V861.3"/>
<path d="M695.3,848 Q695.3,843.8 691,843.8 H616.5 Q612.5,843.8 612.5,848 V866.3 H696"/>
<path d="M612.5,849 H604.5 Q600.8,849 600.8,852.8 V862"/>
<path d="M647.5,843.8 V866.3 M647.5,862.3 H632.5 V866.3"/>
</g>
<g class="lbl">
<text x="472" y="150.6">JH8712B</text>
<text x="533.8" y="267.9">JL1135</text>
<text x="472" y="327.4">JH8709B</text>
<text x="472" y="442.5">JH8716B</text>
<text x="472" y="505.1">JH8754D</text>
<text x="472" y="572.8">JH8755D</text>
<text x="711" y="657.5">JH8765D</text>
<text x="472" y="738.9">JH8702D</text>
<text x="757" y="159.8" text-anchor="middle" class="num">1</text>
<text x="757" y="409.8" text-anchor="middle" class="num">2</text>
<text x="756.8" y="716.5999999999999" text-anchor="middle" class="num">3</text>
<text x="750" y="537.7" text-anchor="middle" class="out">OUTSIDE</text>
<text x="123" y="512">JH8703D</text>
<text x="181.3" y="532">JH8710B</text>
<text x="191.3" y="573.8">JL1135</text>
<text x="321.3" y="515.8">JH8749D</text>
<text x="381.3" y="573.8">JL1135</text>
<text x="138" y="752.8" text-anchor="middle" class="num">4</text>
<text x="329.3" y="752.8" text-anchor="middle" class="num">5</text>
<text x="232.5" y="755.5" text-anchor="middle" class="out">OUTSIDE</text>
<text x="117.5" y="828">JH8703D</text>
<text x="189.5" y="851.3">JH8756D</text>
<text x="395.5" y="820">JH8716B</text>
<text x="485" y="887">JH8757D</text>
<text x="137" y="1066.8" text-anchor="middle" class="num">6</text>
<text x="411.8" y="1066.6" text-anchor="middle" class="num">7</text>
<text x="652.5" y="1066.1" text-anchor="middle" class="num">8</text>
<text x="411.8" y="1035" text-anchor="middle" class="out">OUTSIDE</text>
</g>

<!-- footer -->
<g id="ftr">
<rect x="0" y="1114" width="800" height="36" fill="#fe0000"/>
<text x="26.8" y="1137.3" font-family="'Liberation Sans',sans-serif" font-weight="bold" font-size="16.6" fill="#fff">34</text>
<rect x="48" y="1124" width="0.8" height="13.5" fill="#fff"/>
<text x="53.2" y="1130" font-family="'Liberation Sans',sans-serif" font-size="7.2" fill="#fff" letter-spacing="0.6">JIAHUA</text>
<text x="53.2" y="1137.1" font-family="'Liberation Sans',sans-serif" font-size="7.2" fill="#fff" letter-spacing="0.6">ALUMINIUM</text>
</g>
</svg>
</body></html>
